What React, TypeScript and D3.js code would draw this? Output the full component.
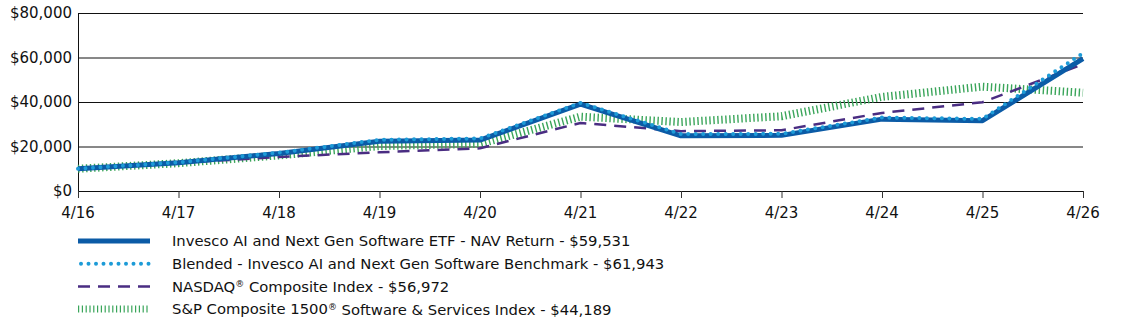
import React, { useEffect, useRef } from 'react';
import * as d3 from 'd3';

const years = ['4/16', '4/17', '4/18', '4/19', '4/20', '4/21', '4/22', '4/23', '4/24', '4/25', '4/26'];

const navReturn = [10000, 12700, 16900, 22400, 22900, 39000, 24800, 25000, 32300, 31600, 59531];
const blended = [10000, 12900, 17200, 23000, 23600, 39600, 25600, 25700, 33000, 32400, 61943];
const nasdaq = [10000, 12600, 15300, 17400, 19200, 30600, 26900, 27300, 35100, 39900, 56972];
const spSoftware = [10000, 12500, 16000, 20200, 21200, 33400, 31000, 33600, 42300, 46900, 44189];

const yTicks = [0, 20000, 40000, 60000, 80000];

const legendLabels = [
  'Invesco AI and Next Gen Software ETF - NAV Return - $59,531',
  'Blended - Invesco AI and Next Gen Software Benchmark - $61,943',
  'NASDAQ® Composite Index - $56,972',
  'S&P Composite 1500® Software & Services Index - $44,189',
];

const styles = [
  { color: '#0b5ba6', width: 5, dash: null as string | null, cap: 'butt' },
  { color: '#1d9bd7', width: 4, dash: '0,7.5', cap: 'round' },
  { color: '#4a2d82', width: 2.5, dash: '12,8', cap: 'butt' },
  { color: '#3aa55a', width: 8, dash: '1.4,2.6', cap: 'butt' },
];

const W = 1123;
const H = 327;

export default function App() {
  const svgRef = useRef<SVGSVGElement>(null);

  useEffect(() => {
    if (!svgRef.current) return;
    const svg = d3.select(svgRef.current);
    svg.selectAll('*').remove();

    const margin = { top: 13, right: 40, bottom: 136, left: 78 };
    const innerWidth = W - margin.left - margin.right;
    const innerHeight = H - margin.top - margin.bottom;
    const font = '"DejaVu Sans", sans-serif';

    const g = svg.append('g').attr('transform', `translate(${margin.left},${margin.top})`);

    const x = d3.scalePoint<string>().domain(years).range([0, innerWidth]);
    const y = d3.scaleLinear().domain([0, 80000]).range([innerHeight, 0]);

    // grid lines
    g.selectAll('.grid')
      .data(yTicks)
      .enter()
      .append('line')
      .attr('x1', 0)
      .attr('x2', innerWidth)
      .attr('y1', d => y(d) + 0.5)
      .attr('y2', d => y(d) + 0.5)
      .attr('stroke', '#111')
      .attr('stroke-width', 1);

    // left axis line
    g.append('line')
      .attr('x1', 0.5)
      .attr('x2', 0.5)
      .attr('y1', 0)
      .attr('y2', innerHeight)
      .attr('stroke', '#111');

    g.selectAll('.ylab')
      .data(yTicks)
      .enter()
      .append('text')
      .attr('x', -6)
      .attr('y', d => y(d))
      .attr('dy', '0.35em')
      .attr('text-anchor', 'end')
      .attr('font-family', font)
      .attr('font-size', 15)
      .attr('fill', '#111')
      .text(d => d3.format('$,')(d));

    // x ticks
    g.selectAll('.xtick')
      .data(years)
      .enter()
      .append('line')
      .attr('x1', d => x(d)! + 0.5)
      .attr('x2', d => x(d)! + 0.5)
      .attr('y1', innerHeight)
      .attr('y2', innerHeight + 7)
      .attr('stroke', '#333');

    g.selectAll('.xlab')
      .data(years)
      .enter()
      .append('text')
      .attr('x', d => x(d)!)
      .attr('y', innerHeight + 27)
      .attr('text-anchor', 'middle')
      .attr('font-family', font)
      .attr('font-size', 15)
      .attr('fill', '#111')
      .text(d => d);

    const line = d3.line<number>()
      .x((_, i) => x(years[i])!)
      .y(d => y(d));

    const series = [navReturn, blended, nasdaq, spSoftware];
    const drawOrder = [3, 2, 0, 1];
    drawOrder.forEach(i => {
      const s = styles[i];
      const p = g.append('path')
        .datum(series[i])
        .attr('fill', 'none')
        .attr('stroke', s.color)
        .attr('stroke-width', s.width)
        .attr('stroke-linejoin', 'round')
        .attr('stroke-linecap', s.cap)
        .attr('d', line);
      if (s.dash) p.attr('stroke-dasharray', s.dash);
    });

    // legend
    const legend = svg.append('g').attr('transform', 'translate(78,241)');
    legendLabels.forEach((label, i) => {
      const s = styles[i];
      const row = legend.append('g').attr('transform', `translate(0,${i * 22.7})`);
      const l = row.append('line')
        .attr('x1', i === 1 ? 3 : 0)
        .attr('x2', 72)
        .attr('y1', 0)
        .attr('y2', 0)
        .attr('stroke', s.color)
        .attr('stroke-width', i === 3 ? 7 : s.width)
        .attr('stroke-linecap', s.cap);
      if (s.dash) l.attr('stroke-dasharray', i === 3 ? '1.2,2.6' : s.dash);
      const t = row.append('text')
        .attr('x', 94)
        .attr('y', 0)
        .attr('dy', '0.35em')
        .attr('font-family', font)
        .attr('font-size', 14.8)
        .attr('fill', '#111');
      // superscript the registered mark
      label.split('®').forEach((part, j) => {
        if (j > 0) {
          t.append('tspan')
            .attr('font-size', 9)
            .attr('dy', '-0.5em')
            .text('®');
          t.append('tspan').attr('dy', '0.33em').text(part);
        } else {
          t.append('tspan').text(part);
        }
      });
    });
  }, []);

  return (
    <svg
      ref={svgRef}
      width={W}
      height={H}
      style={{ position: 'absolute', left: 0, top: 0, background: '#fff' }}
    />
  );
}
